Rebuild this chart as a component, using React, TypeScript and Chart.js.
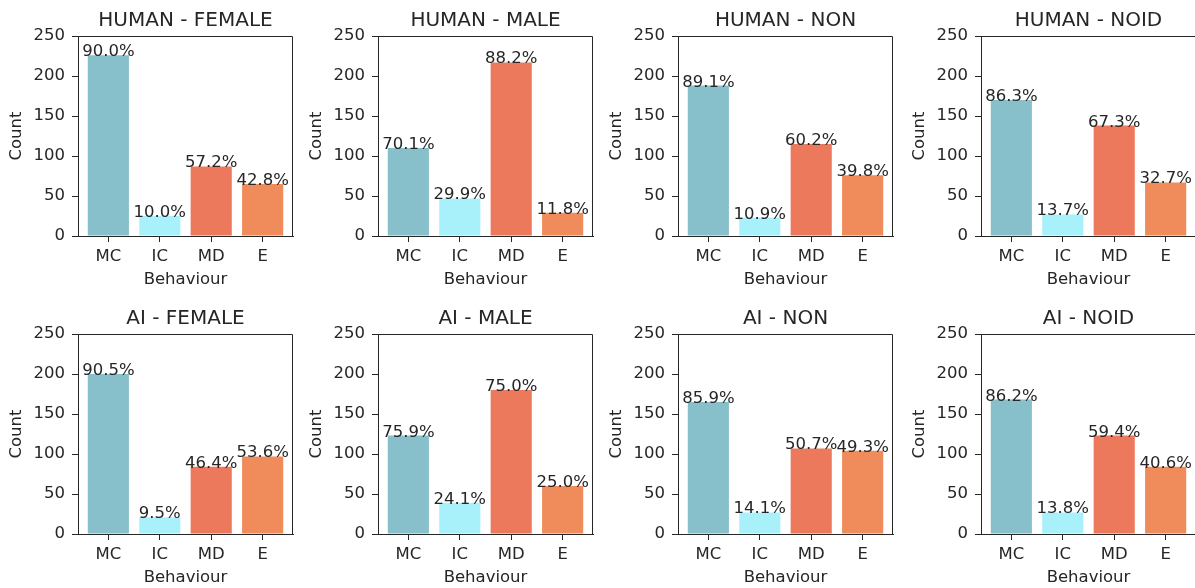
import React, { useEffect, useRef } from "react";
import { Chart, registerables } from "chart.js";

Chart.register(...registerables);

// ---- data ----
const categories = ["MC", "IC", "MD", "E"];
const barColors = ["#87c0ca", "#a8f1fb", "#ed795d", "#f08b5c"];
const yMax = 250;
const yStep = 50;
const xAxisTitle = "Behaviour";
const yAxisTitle = "Count";

const humanFemaleCounts = [226, 25, 87, 65];
const humanFemalePct = ["90.0%", "10.0%", "57.2%", "42.8%"];
const humanMaleCounts = [110, 47, 217, 29];
const humanMalePct = ["70.1%", "29.9%", "88.2%", "11.8%"];
const humanNonCounts = [188, 23, 115, 76];
const humanNonPct = ["89.1%", "10.9%", "60.2%", "39.8%"];
const humanNoidCounts = [170, 27, 138, 67];
const humanNoidPct = ["86.3%", "13.7%", "67.3%", "32.7%"];

const aiFemaleCounts = [200, 21, 84, 97];
const aiFemalePct = ["90.5%", "9.5%", "46.4%", "53.6%"];
const aiMaleCounts = [123, 39, 180, 60];
const aiMalePct = ["75.9%", "24.1%", "75.0%", "25.0%"];
const aiNonCounts = [165, 27, 107, 104];
const aiNonPct = ["85.9%", "14.1%", "50.7%", "49.3%"];
const aiNoidCounts = [168, 27, 123, 84];
const aiNoidPct = ["86.2%", "13.8%", "59.4%", "40.6%"];

const panels = [
  { title: "HUMAN - FEMALE", counts: humanFemaleCounts, pct: humanFemalePct },
  { title: "HUMAN - MALE", counts: humanMaleCounts, pct: humanMalePct },
  { title: "HUMAN - NON", counts: humanNonCounts, pct: humanNonPct },
  { title: "HUMAN - NOID", counts: humanNoidCounts, pct: humanNoidPct },
  { title: "AI - FEMALE", counts: aiFemaleCounts, pct: aiFemalePct },
  { title: "AI - MALE", counts: aiMaleCounts, pct: aiMalePct },
  { title: "AI - NON", counts: aiNonCounts, pct: aiNonPct },
  { title: "AI - NOID", counts: aiNoidCounts, pct: aiNoidPct },
];

// ---- layout / style ----
const FONT = "'DejaVu Sans', sans-serif";
const INK = "#262626";
const CANVAS_W = 300;
const CANVAS_H = 295;
const colLefts = [0, 300, 600, 903];
const rowTops = [0, 298];

const framePlugin = {
  id: "frameAndLabels",
  afterDatasetsDraw(chart: any, _args: any, opts: any) {
    const { ctx, chartArea } = chart;
    ctx.save();
    // top and right spines
    ctx.strokeStyle = INK;
    ctx.lineWidth = 1;
    const t = Math.round(chartArea.top) + 0.5;
    const r = Math.round(chartArea.right) - 0.5;
    ctx.beginPath();
    ctx.moveTo(chartArea.left, t);
    ctx.lineTo(r, t);
    ctx.lineTo(r, chartArea.bottom);
    ctx.stroke();
    // percentage labels
    const labels: string[] = (opts && opts.labels) || [];
    const meta = chart.getDatasetMeta(0);
    ctx.fillStyle = INK;
    ctx.font = `16.5px ${FONT}`;
    ctx.textAlign = "center";
    ctx.textBaseline = "alphabetic";
    meta.data.forEach((bar: any, i: number) => {
      if (labels[i] != null) ctx.fillText(labels[i], bar.x, bar.y + 1);
    });
    ctx.restore();
  },
};

function Panel({ title, counts, pct, left, top }: any) {
  const ref = useRef<HTMLCanvasElement | null>(null);
  useEffect(() => {
    if (!ref.current) return;
    const chart = new Chart(ref.current, {
      type: "bar",
      data: {
        datasets: [
          {
            data: counts.map((v: number, i: number) => ({ x: i, y: v })),
            backgroundColor: barColors,
            borderWidth: 0,
            barPercentage: 0.8,
            categoryPercentage: 1.0,
          },
        ],
      },
      plugins: [framePlugin],
      options: {
        responsive: false,
        animation: false,
        devicePixelRatio: 1,
        layout: { padding: { left: 0, right: 7, top: 0, bottom: 0 } },
        plugins: {
          legend: { display: false },
          tooltip: { enabled: false },
          title: {
            display: true,
            text: title,
            fullSize: false,
            color: INK,
            font: { family: FONT, size: 20, weight: "normal" },
            padding: { top: 9, bottom: 3 },
          },
          frameAndLabels: { labels: pct },
        } as any,
        scales: {
          x: {
            type: "linear",
            offset: false,
            min: -0.59,
            max: 3.59,
            afterBuildTicks: (scale: any) => {
              scale.ticks = categories.map((_, i) => ({ value: i }));
            },
            afterFit: (scale: any) => {
              scale.height = 59;
            },
            ticks: {
              autoSkip: false,
              maxRotation: 0,
              padding: 5,
              color: INK,
              font: { family: FONT, size: 16.5 },
              callback: (v: any) => categories[Math.round(Number(v))] ?? "",
            },
            grid: { drawOnChartArea: false, drawTicks: true, tickLength: 6, color: INK, offset: false },
            border: { display: true, color: INK },
            title: {
              display: true,
              text: xAxisTitle,
              color: INK,
              font: { family: FONT, size: 16.5 },
              padding: { top: 0, bottom: 5 },
            },
          },
          y: {
            min: 0,
            max: yMax,
            afterFit: (scale: any) => {
              scale.width = 78;
            },
            ticks: {
              stepSize: yStep,
              padding: 7,
              color: INK,
              font: { family: FONT, size: 16.5 },
            },
            grid: { drawOnChartArea: false, drawTicks: true, tickLength: 6, color: INK },
            border: { display: true, color: INK },
            title: {
              display: true,
              text: yAxisTitle,
              color: INK,
              font: { family: FONT, size: 16.5 },
              padding: { top: 7, bottom: 0 },
            },
          },
        },
      } as any,
    });
    return () => chart.destroy();
  }, [title, counts, pct]);
  return (
    <canvas
      ref={ref}
      width={CANVAS_W}
      height={CANVAS_H}
      style={{ position: "absolute", left, top, width: CANVAS_W, height: CANVAS_H }}
    />
  );
}

export default function App() {
  useEffect(() => {
    document.body.style.margin = "0";
    document.body.style.background = "#ffffff";
  }, []);
  return (
    <div style={{ position: "relative", width: 1195, height: 588, background: "#ffffff", overflow: "hidden" }}>
      {panels.map((p, idx) => (
        <Panel
          key={p.title}
          title={p.title}
          counts={p.counts}
          pct={p.pct}
          left={colLefts[idx % 4]}
          top={rowTops[Math.floor(idx / 4)]}
        />
      ))}
    </div>
  );
}
